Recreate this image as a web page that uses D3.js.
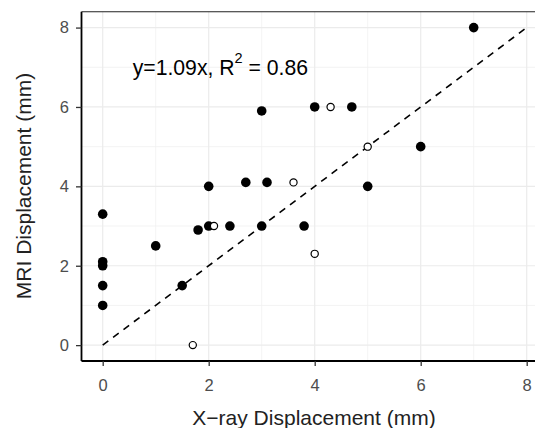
<!DOCTYPE html>
<html><head><meta charset="utf-8">
<script src="https://cdn.jsdelivr.net/npm/d3@7"></script>
<style>body{margin:0;background:#fff}svg{display:block}</style>
</head><body>
<script>
// Data
const filledX = [0, 0, 0, 0, 0, 1, 1.5, 1.8, 2, 2, 2.4, 2.7, 3, 3, 3.1, 3.8, 4, 4.7, 5, 6, 7];
const filledY = [3.3, 2.1, 2.0, 1.5, 1.0, 2.5, 1.5, 2.9, 3, 4, 3, 4.1, 5.9, 3, 4.1, 3, 6, 6, 4, 5, 8];
const openX = [2.1, 1.7, 3.6, 4.3, 5, 4];
const openY = [3, 0, 4.1, 6, 5, 2.3];
const lineX = [0, 8];
const lineY = [0, 8];
const xTicks = [0, 2, 4, 6, 8];
const yTicks = [0, 2, 4, 6, 8];
const xMinor = [1, 3, 5, 7];
const yMinor = [1, 3, 5, 7];
const annotation = {x: 2.22, y: 7, text: "y=1.09x, R", sup: "2", rest: " = 0.86"};
const xTitle = "X\u2212ray Displacement (mm)";
const yTitle = "MRI Displacement (mm)";

(function(){
const W = 535, H = 428;
const svg = d3.select("body").append("svg").attr("width", W).attr("height", H);
const pL = 81.5, pR = 547.9, pT = 11.7, pB = 361;
const x = d3.scaleLinear().domain([-0.4, 8.4]).range([pL, pR]);
const y = d3.scaleLinear().domain([-0.4, 8.4]).range([pB, pT]);
const font = "Liberation Sans, Arial, Helvetica, sans-serif";

// grid
const g = svg.append("g");
g.selectAll(".vmin").data(xMinor).join("line")
  .attr("x1", d => x(d)).attr("x2", d => x(d)).attr("y1", pT).attr("y2", pB)
  .attr("stroke", "#f0f0f0").attr("stroke-width", 0.8);
g.selectAll(".hmin").data(yMinor).join("line")
  .attr("y1", d => y(d)).attr("y2", d => y(d)).attr("x1", pL).attr("x2", pR)
  .attr("stroke", "#f0f0f0").attr("stroke-width", 0.8);
g.selectAll(".vmaj").data(xTicks).join("line")
  .attr("x1", d => x(d)).attr("x2", d => x(d)).attr("y1", pT).attr("y2", pB)
  .attr("stroke", "#ebebeb").attr("stroke-width", 1.2);
g.selectAll(".hmaj").data(yTicks).join("line")
  .attr("y1", d => y(d)).attr("y2", d => y(d)).attr("x1", pL).attr("x2", pR)
  .attr("stroke", "#ebebeb").attr("stroke-width", 1.2);

// top border
svg.append("line").attr("x1", pL).attr("x2", pR).attr("y1", pT).attr("y2", pT)
  .attr("stroke", "#222").attr("stroke-width", 1.1);

// dashed reference line
svg.append("path")
  .datum(lineX.map((d, i) => [d, lineY[i]]))
  .attr("d", d3.line().x(d => x(d[0])).y(d => y(d[1])))
  .attr("stroke", "#000").attr("stroke-width", 1.6).attr("fill", "none")
  .attr("stroke-dasharray", "7,6");

// points
svg.append("g").selectAll("circle").data(filledX.map((d, i) => [d, filledY[i]])).join("circle")
  .attr("cx", d => x(d[0])).attr("cy", d => y(d[1])).attr("r", 4.8).attr("fill", "#000");
svg.append("g").selectAll("circle").data(openX.map((d, i) => [d, openY[i]])).join("circle")
  .attr("cx", d => x(d[0])).attr("cy", d => y(d[1])).attr("r", 3.6)
  .attr("fill", "#fff").attr("stroke", "#000").attr("stroke-width", 1.2);

// annotation
const t = svg.append("text").attr("x", x(annotation.x)).attr("y", y(annotation.y))
  .attr("text-anchor", "middle").attr("dominant-baseline", "central")
  .attr("font-family", font).attr("font-size", 21.2).attr("fill", "#000");
t.append("tspan").text(annotation.text);
t.append("tspan").attr("font-size", 14.5).attr("dy", -9.5).text(annotation.sup);
t.append("tspan").attr("dy", 9.5).text(annotation.rest);

// axes
const xAxis = svg.append("g").attr("transform", `translate(0,${pB})`)
  .call(d3.axisBottom(x).tickValues(xTicks).tickSize(5).tickPadding(13).tickSizeOuter(0));
const yAxis = svg.append("g").attr("transform", `translate(${pL},0)`)
  .call(d3.axisLeft(y).tickValues(yTicks).tickSize(5.5).tickPadding(7).tickSizeOuter(0));
[xAxis, yAxis].forEach(a => {
  a.select(".domain").attr("stroke", "#000").attr("stroke-width", 1.8);
  a.selectAll(".tick line").attr("stroke", "#333").attr("stroke-width", 1.3);
  a.selectAll(".tick text").attr("fill", "#4d4d4d").attr("font-size", 16.5).attr("font-family", font);
});
xAxis.select(".domain").attr("d", `M${pL},0H${pR}`);
yAxis.select(".domain").attr("d", `M0,${pT}V${pB}`);

svg.append("text").attr("x", 314).attr("y", 425).attr("text-anchor", "middle")
  .attr("font-family", font).attr("font-size", 21).attr("fill", "#222").text(xTitle);
svg.append("text").attr("transform", "translate(30.5,186) rotate(-90)").attr("text-anchor", "middle")
  .attr("font-family", font).attr("font-size", 21).attr("fill", "#222").text(yTitle);
})();
</script>
</body></html>
